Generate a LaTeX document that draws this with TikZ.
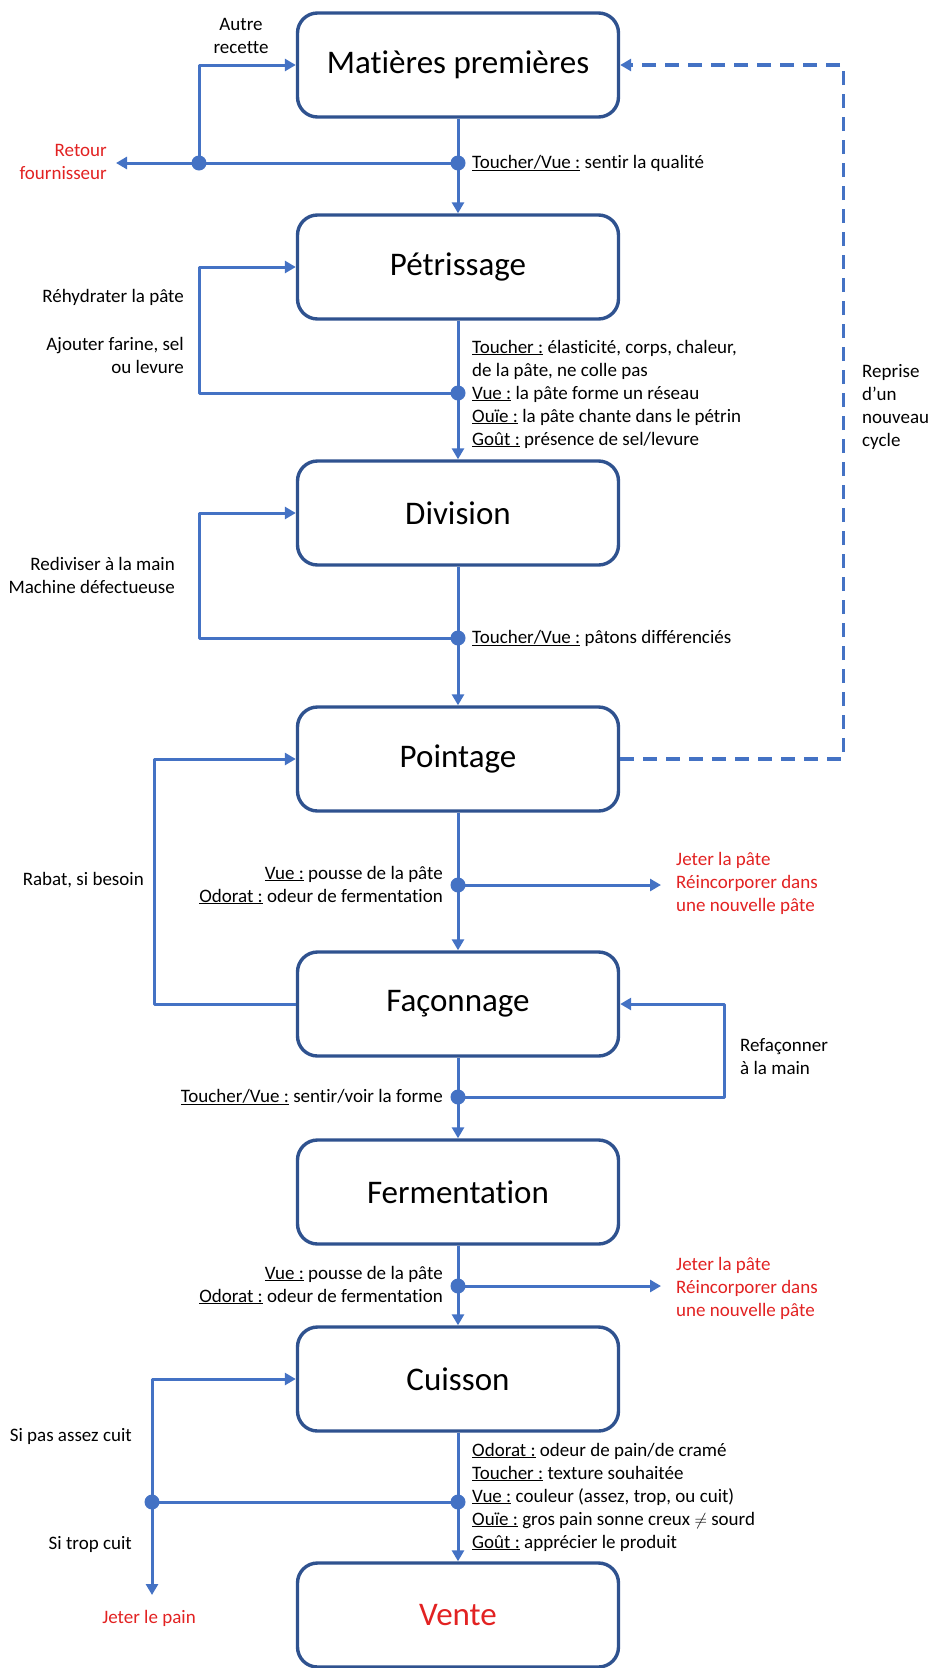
\documentclass[tikz,border=0pt]{standalone}
\usepackage{fontspec}
\setmainfont{Carlito}[Ligatures=CommonOff]
\usetikzlibrary{arrows.meta}
\definecolor{fleche}{RGB}{68,114,196}
\definecolor{cadre}{RGB}{47,82,143}
\definecolor{alerte}{RGB}{226,34,34}
\begin{document}
\begin{tikzpicture}[x=1pt,y=-1pt,line join=round,
	etape/.style={draw=cadre,line width=3.4pt,rounded corners=20pt,minimum width=321pt,minimum height=104pt,inner sep=0pt,font=\fontsize{33}{38}\selectfont},
	lien/.style={draw=fleche,line width=3pt},
	fl/.style={lien,-{Triangle[length=11pt,width=12pt]}},
	note/.style={inner sep=0pt,font=\fontsize{19}{23}\selectfont},
	rouge/.style={note,text=alerte}]
	\useasboundingbox (0,0) rectangle (932,1668);
	% etapes
	\node[etape] (mat) at (458,65) {Matières premières};
	\node[etape] (pet) at (458,267) {Pétrissage};
	\node[etape] (div) at (458,513) {Division};
	\node[etape] (poi) at (458,759) {Pointage};
	\node[etape] (fac) at (458,1004) {Façonnage};
	\node[etape] (fer) at (458,1192) {Fermentation};
	\node[etape] (cui) at (458,1379) {Cuisson};
	\node[etape,text=alerte] (ven) at (458,1615) {Vente};
	% points de controle
	\coordinate (j1) at (458,163); \coordinate (j1l) at (199,163); \coordinate (retour) at (116,163);
	\coordinate (j2) at (458,393);
	\coordinate (j3) at (458,638);
	\coordinate (j4) at (458,885); \coordinate (jeter1) at (661,885);
	\coordinate (j5) at (458,1097);
	\coordinate (j6) at (458,1286); \coordinate (jeter2) at (661,1286);
	\coordinate (j7) at (458,1502); \coordinate (j7l) at (152,1502); \coordinate (pain) at (152,1595);
	% liens principaux
	\draw[fl] (mat)--(pet);
	\draw[fl] (pet)--(div);
	\draw[fl] (div)--(poi);
	\draw[fl] (poi)--(fac);
	\draw[fl] (fac)--(fer);
	\draw[fl] (fer)--(cui);
	\draw[fl] (cui)--(ven);
	% retours
	\draw[fl] (j1)--(retour);
	\draw[fl] (j1l)|-(mat.west);
	\draw[fl] (j2)--++(-259,0)|-(pet.west);
	\draw[fl] (j3)--++(-259,0)|-(div.west);
	\draw[fl] (j4)--(jeter1);
	\draw[fl] (fac.west)--++(-141,0)|-(poi.west);
	\draw[fl] (j5)--++(266,0)|-(fac.east);
	\draw[fl] (j6)--(jeter2);
	\draw[lien] (j7)--(j7l);
	\draw[fl] (j7l)|-(cui.west);
	\draw[fl] (j7l)--(pain);
	\draw[fl,line width=3.2pt,dash pattern=on 14pt off 9pt] (poi.east)--++(223,0)|-(mat.east);
	\foreach \j in {j1,j1l,j2,j3,j4,j5,j6,j7,j7l} \fill[fleche] (\j) circle (7.5);
	% textes
	\node[note,align=center] (autre) at (241,36) {Autre\\recette};
	\node[rouge,anchor=east,align=right] (four) at (107,162) {Retour\\fournisseur};
	\node[note,anchor=west] (sens1) at (472,163) {\underline{Toucher/Vue :} sentir la qualité};
	\node[note,anchor=east] (rehy) at (184,297) {Réhydrater la pâte};
	\node[note,anchor=east,align=right] (ajout) at (184,355) {Ajouter farine, sel\\ou levure};
	\node[note,anchor=west,align=left] (sens2) at (472,394) {\underline{Toucher :} élasticité, corps, chaleur,\\de la pâte, ne colle pas\\\underline{Vue :} la pâte forme un réseau\\\underline{Ouïe :} la pâte chante dans le pétrin\\\underline{Goût :} présence de sel/levure};
	\node[note,anchor=west,align=left] (cycle) at (862,407) {Reprise\\d’un\\nouveau\\cycle};
	\node[note,anchor=east,align=right] (redi) at (175,575) {Rediviser à la main\\Machine défectueuse};
	\node[note,anchor=west] (sens3) at (472,638) {\underline{Toucher/Vue :} pâtons différenciés};
	\node[note,anchor=east,align=right] (sens4) at (443,885) {\underline{Vue :} pousse de la pâte\\\underline{Odorat :} odeur de fermentation};
	\node[rouge,anchor=west,align=left] (rej1) at (676,883) {Jeter la pâte\\Réincorporer dans\\une nouvelle pâte};
	\node[note,anchor=east] (rabat) at (144,880) {Rabat, si besoin};
	\node[note,anchor=west,align=left] (refa) at (740,1057) {Refaçonner\\à la main};
	\node[note,anchor=east] (sens5) at (443,1097) {\underline{Toucher/Vue :} sentir/voir la forme};
	\node[note,anchor=east,align=right] (sens6) at (443,1285) {\underline{Vue :} pousse de la pâte\\\underline{Odorat :} odeur de fermentation};
	\node[rouge,anchor=west,align=left] (rej2) at (676,1288) {Jeter la pâte\\Réincorporer dans\\une nouvelle pâte};
	\node[note,anchor=east] (pasassez) at (132,1436) {Si pas assez cuit};
	\node[note,anchor=east] (trop) at (132,1544) {Si trop cuit};
	\node[rouge] (jpain) at (149,1618) {Jeter le pain};
	\node[note,anchor=west,align=left] (sens7) at (472,1497) {\underline{Odorat :} odeur de pain/de cramé\\\underline{Toucher :} texture souhaitée\\\underline{Vue :} couleur (assez, trop, ou cuit)\\\underline{Ouïe :} gros pain sonne creux $\neq$ sourd\\\underline{Goût :} apprécier le produit};
\end{tikzpicture}
\end{document}
